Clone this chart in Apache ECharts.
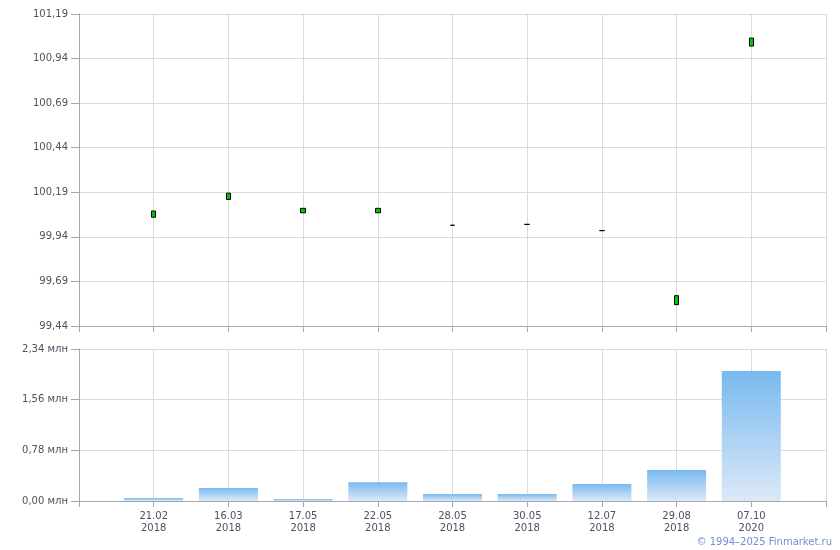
<!DOCTYPE html>
<html><head><meta charset="utf-8">
<script src="https://cdn.jsdelivr.net/npm/echarts@6/dist/echarts.min.js"></script>
<style>html,body{margin:0;padding:0;background:#fff}#c{width:840px;height:550px}</style>
</head><body><div id="c"></div>
<script>
const dates = ['21.02','16.03','17.05','22.05','28.05','30.05','12.07','29.08','07.10'];
const years = ['2018','2018','2018','2018','2018','2018','2018','2018','2020'];
const openP  = [100.05, 100.15, 100.075, 100.075, 100.005, 100.01, 99.975, 99.56, 101.01];
const closeP = [100.085, 100.185, 100.10, 100.10, 100.005, 100.01, 99.975, 99.61, 101.055];
const volumeMln = [0.046, 0.20, 0.03, 0.29, 0.108, 0.108, 0.26, 0.477, 2.0];
const priceTicks = {min: 99.44, max: 101.19, interval: 0.25};
const volTicks = {min: 0, max: 2.34, interval: 0.78};

const cats = [''].concat(dates.map((d,i)=>d+'\n'+years[i])).concat(['']);
const candleData = ['-'].concat(openP.map((o,i)=>[o, closeP[i], Math.min(o,closeP[i]), Math.max(o,closeP[i])])).concat(['-']);
const volData = ['-'].concat(volumeMln).concat(['-']);

const font = 'DejaVu Sans, Verdana, sans-serif';
const gridColor = '#d6dce0';
const axisColor = '#a4a8b0';
const labelColor = '#505060';
const fmt = v => v.toFixed(2).replace('.', ',');

const chart = echarts.init(document.getElementById('c'), null, {renderer:'canvas'});
chart.setOption({
  animation: false,
  backgroundColor: '#fff',
  grid: [
    {left: 79, right: 14, top: 14, height: 312},
    {left: 79, right: 14, top: 349, height: 152}
  ],
  xAxis: [
    {type:'category', gridIndex:0, data: cats, boundaryGap:false,
     axisLine:{lineStyle:{color:axisColor}}, axisTick:{show:true, length:6, lineStyle:{color:axisColor}},
     axisLabel:{show:false}, splitLine:{show:true, lineStyle:{color:gridColor}}},
    {type:'category', gridIndex:1, data: cats, boundaryGap:false,
     axisLine:{lineStyle:{color:axisColor}}, axisTick:{show:true, length:6, lineStyle:{color:axisColor}},
     axisLabel:{show:true, interval:0, margin:9, color:labelColor, fontFamily:font, fontSize:10, lineHeight:12},
     splitLine:{show:true, lineStyle:{color:gridColor}}}
  ],
  yAxis: [
    {type:'value', gridIndex:0, min:priceTicks.min, max:priceTicks.max, interval:priceTicks.interval, scale:true,
     axisLine:{show:true, lineStyle:{color:axisColor}}, axisTick:{show:true, length:8, lineStyle:{color:axisColor}},
     axisLabel:{margin:11, color:labelColor, fontFamily:font, fontSize:10, formatter: v=>fmt(v)},
     splitLine:{show:true, lineStyle:{color:gridColor}}},
    {type:'value', gridIndex:1, min:volTicks.min, max:volTicks.max, interval:volTicks.interval,
     axisLine:{show:true, lineStyle:{color:axisColor}}, axisTick:{show:true, length:8, lineStyle:{color:axisColor}},
     axisLabel:{margin:11, color:labelColor, fontFamily:font, fontSize:10, formatter: v=>fmt(v)+' млн'},
     splitLine:{show:true, lineStyle:{color:gridColor}}}
  ],
  series: [
    {type:'candlestick', xAxisIndex:0, yAxisIndex:0, data: candleData, barWidth:5,
     itemStyle:{color:'#00c800', color0:'#00c800', borderColor:'#000', borderColor0:'#000', borderWidth:1}},
    {type:'bar', xAxisIndex:1, yAxisIndex:1, data: volData, barWidth:59,
     itemStyle:{color: new echarts.graphic.LinearGradient(0,0,0,1,[{offset:0,color:'#78b9ef'},{offset:1,color:'#dce9f7'}])}}
  ],
  graphic: [
    {type:'text', right:8, top:537, style:{text:'© 1994–2025 Finmarket.ru', fill:'#6f8fd6', font:'10px '+font}}
  ]
});
</script></body></html>
